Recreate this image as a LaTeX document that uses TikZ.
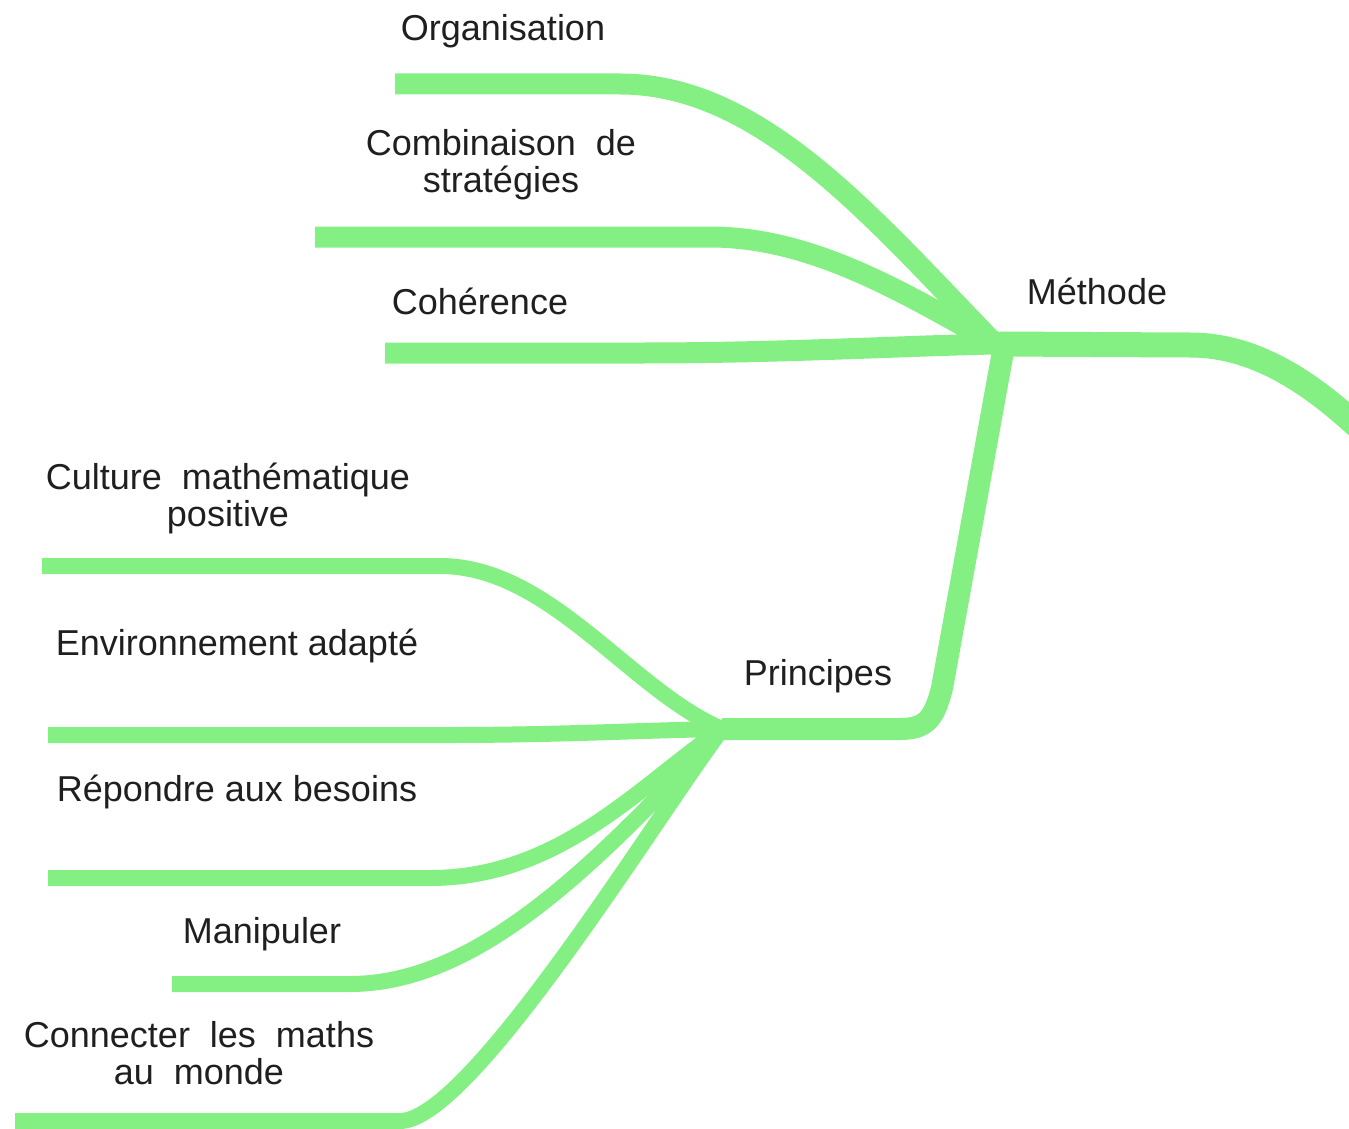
\documentclass[tikz,border=0pt]{standalone}
\usepackage{fontspec}
\setmainfont{Liberation Sans}
\definecolor{branch}{RGB}{132,240,132}
\begin{document}
\begin{tikzpicture}[x=1pt,y=-1pt,
  branchline/.style={draw=branch,line width=21pt,line cap=butt,line join=round},
  mainline/.style={branchline,line width=25pt},
  linkline/.style={branchline,line width=22pt},
  subline/.style={branchline,line width=16pt},
  lbl/.style={font=\fontsize{36}{37}\selectfont,text=black!88,inner sep=0pt,align=center}]
\useasboundingbox (0,0) rectangle (1349,1129);
\clip (0,0) rectangle (1349,1129);
% hubs
\coordinate (mhub) at (995,344);
\coordinate (phub) at (722,729);
% leaf starts
\coordinate (org) at (395,84);
\coordinate (comb) at (315,237);
\coordinate (coh) at (385,353);
\coordinate (meth) at (1380,448);
\coordinate (cult) at (42,566);
\coordinate (env) at (48,735);
\coordinate (rep) at (48,878);
\coordinate (man) at (172,984);
\coordinate (con) at (15,1121);
% labels
\node[lbl] (torg) at (503,31) {Organisation};
\node[lbl] (tcomb) at (501,165) {Combinaison\ \ de\\stratégies};
\node[lbl] (tcoh) at (480,301) {Cohérence};
\node[lbl] (tmeth) at (1097,291) {Méthode};
\node[lbl] (tcult) at (228,498) {Culture\ \ mathématique\\positive};
\node[lbl] (tenv) at (237,646) {Environnement adapté};
\node[lbl] (tprin) at (818,676) {Principes};
\node[lbl] (trep) at (237,792) {Répondre aux besoins};
\node[lbl] (tman) at (262,934) {Manipuler};
\node[lbl] (tcon) at (199,1053) {Connecter\ \ les\ \ maths\\au\ \ monde};
% Méthode branches
\draw[branchline] (org) -- (620,84) .. controls (760,84) and (870,215) .. (mhub);
\draw[branchline] (comb) -- (710,237) .. controls (810,237) and (900,290) .. (mhub);
\draw[branchline] (coh) -- (640,353) .. controls (780,353) and (900,346) .. (mhub);
\draw[mainline] (mhub) -- (1190,345) .. controls (1260,345) and (1320,388) .. (meth);
% link Méthode -> Principes
\draw[linkline] (1004,346) -- (942,688) .. controls (934,720) and (925,729) .. (900,729) -- (phub);
% Principes branches
\draw[subline] (cult) -- (440,566) .. controls (550,566) and (630,690) .. (phub);
\draw[subline] (env) -- (450,735) .. controls (560,735) and (650,730) .. (phub);
\draw[subline] (rep) -- (430,878) .. controls (560,878) and (640,785) .. (phub);
\draw[subline] (man) -- (350,984) .. controls (480,984) and (600,860) .. (phub);
\draw[subline] (con) -- (400,1121) .. controls (470,1121) and (652,823) .. (phub);
\end{tikzpicture}
\end{document}
